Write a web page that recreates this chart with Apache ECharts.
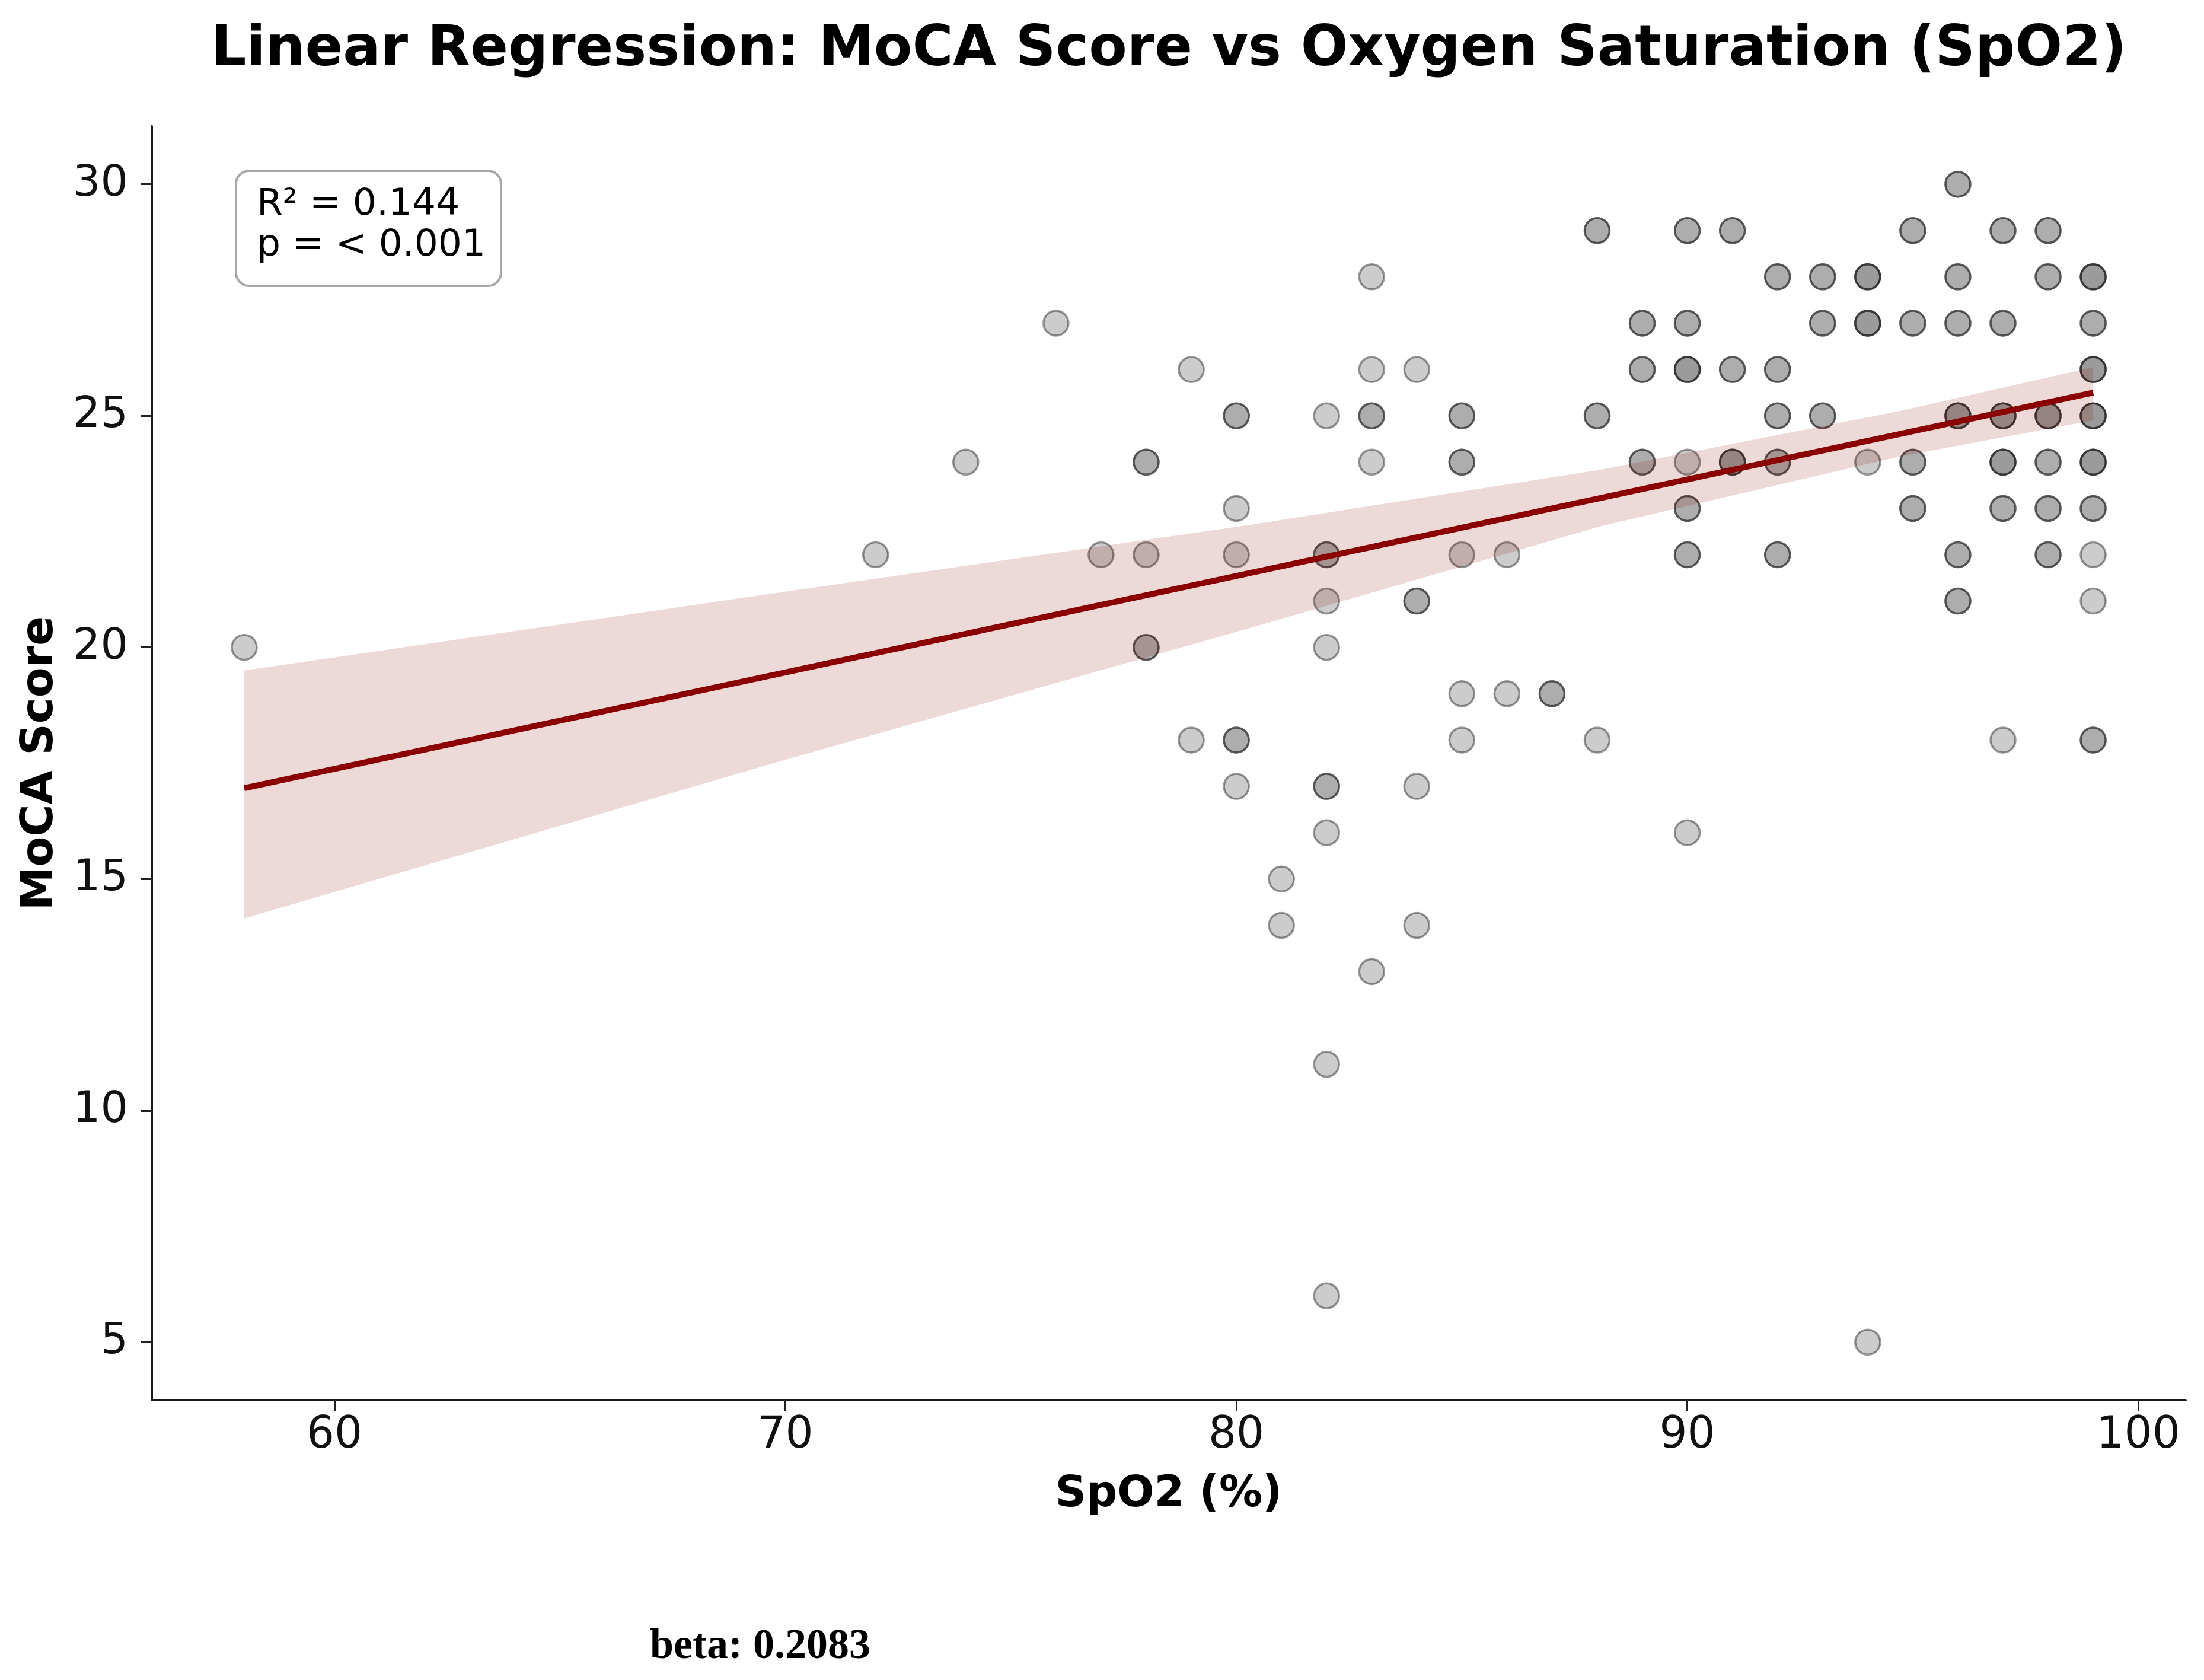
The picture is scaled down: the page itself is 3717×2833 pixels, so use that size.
<!DOCTYPE html>
<html>
<head>
<meta charset="utf-8">
<script src="https://cdn.jsdelivr.net/npm/echarts@6.0.0/dist/echarts.min.js"></script>
<style>
html,body{margin:0;padding:0;background:#fff;}
#main{width:3717px;height:2833px;}
</style>
</head>
<body>
<div id="main"></div>
<script>
// SpO2 (%) of each subject, repeated where points overlap
var spo2 = [
  58, 72, 74, 76, 77,
  78, 78, 78, 78, 78,
  79, 79,
  80, 80, 80, 80, 80, 80, 80,
  81, 81,
  82, 82, 82, 82, 82, 82, 82, 82, 82, 82,
  83, 83, 83, 83, 83, 83,
  84, 84, 84, 84, 84,
  85, 85, 85, 85, 85, 85, 85,
  86, 86,
  87, 87,
  88, 88, 88, 88, 88,
  89, 89, 89, 89, 89, 89,
  90, 90, 90, 90, 90, 90, 90, 90, 90, 90, 90, 90, 90,
  91, 91, 91, 91, 91, 91, 91,
  92, 92, 92, 92, 92, 92, 92, 92, 92, 92,
  93, 93, 93, 93, 93, 93,
  94, 94, 94, 94, 94, 94, 94, 94,
  95, 95, 95, 95, 95, 95, 95, 95,
  96, 96, 96, 96, 96, 96, 96, 96, 96, 96, 96, 96, 96,
  97, 97, 97, 97, 97, 97, 97, 97, 97, 97, 97, 97, 97,
  98, 98, 98, 98, 98, 98, 98, 98, 98, 98, 98, 98, 98,
  99, 99, 99, 99, 99, 99, 99, 99, 99, 99, 99, 99, 99, 99, 99, 99, 99, 99, 99, 99
];
// MoCA score, same order
var moca = [
  20, 22, 24, 27, 22,
  24, 24, 22, 20, 20,
  26, 18,
  25, 25, 23, 22, 18, 18, 17,
  15, 14,
  25, 22, 22, 21, 20, 17, 17, 16, 11, 6,
  28, 26, 25, 25, 24, 13,
  26, 21, 21, 17, 14,
  25, 25, 24, 24, 22, 19, 18,
  22, 19,
  19, 19,
  29, 29, 25, 25, 18,
  27, 27, 26, 26, 24, 24,
  29, 29, 27, 27, 26, 26, 26, 24, 23, 23, 22, 22, 16,
  29, 29, 26, 26, 24, 24, 24,
  28, 28, 26, 26, 25, 25, 24, 24, 22, 22,
  28, 28, 27, 27, 25, 25,
  28, 28, 28, 27, 27, 27, 24, 5,
  29, 29, 27, 27, 24, 24, 23, 23,
  30, 30, 28, 28, 27, 27, 25, 25, 25, 22, 22, 21, 21,
  29, 29, 27, 27, 25, 25, 25, 24, 24, 24, 23, 23, 18,
  29, 29, 28, 28, 25, 25, 25, 24, 24, 23, 23, 22, 22,
  28, 28, 28, 27, 27, 26, 26, 26, 25, 25, 25, 24, 24, 24, 23, 23, 22, 21, 18, 18
];

// fitted line (ends) and 95% band
var fitX = [58, 99];
var fitY = [16.96, 25.5];
var bandX = [58, 69.7, 80.2, 88.1, 94.7, 99];
var bandHi = [19.5, 21.16, 22.63, 23.84, 25.1, 26.05];
var bandLo = [14.15, 17.49, 20.39, 22.62, 24.12, 24.9];

var xTicks = [60, 70, 80, 90, 100];
var yTicks = [5, 10, 15, 20, 25, 30];

var titleText = 'Linear Regression: MoCA Score vs Oxygen Saturation (SpO2)';
var statLines = ['R\u00b2 = 0.144', 'p = < 0.001'];
var betaText = 'beta: 0.2083';

var points = [];
for (var i = 0; i < spo2.length; i++) {
  points.push([spo2[i], moca[i]]);
}
var fitData = [];
for (var i = 0; i < fitX.length; i++) {
  fitData.push([fitX[i], fitY[i]]);
}
var bandData = [];
for (var i = 0; i < bandX.length; i++) {
  bandData.push([bandX[i], bandLo[i], bandHi[i]]);
}

var FONT = '"DejaVu Sans", "Noto Sans", sans-serif';

var myChart = echarts.init(document.getElementById('main'));
var option = {
  backgroundColor: '#ffffff',
  animation: false,
  grid: {
    left: 256,
    top: 213,
    right: 31,
    bottom: 472,
    containLabel: false
  },
  xAxis: {
    type: 'value',
    min: 55.95,
    max: 101.05,
    name: 'SpO2 (%)',
    nameLocation: 'middle',
    nameGap: 124,
    nameTextStyle: { fontFamily: FONT, fontSize: 73, fontWeight: 'bold', color: '#000' },
    axisLine: { show: true, onZero: false, lineStyle: { color: '#1a1a1a', width: 4 } },
    axisTick: { show: true, length: 18, customValues: xTicks, lineStyle: { color: '#222', width: 3 } },
    axisLabel: { customValues: xTicks, fontFamily: FONT, fontSize: 74, color: '#111', margin: 24 },
    splitLine: { show: false }
  },
  yAxis: {
    type: 'value',
    min: 3.75,
    max: 31.25,
    name: 'MoCA Score',
    nameLocation: 'middle',
    nameRotate: 90,
    nameGap: 150,
    nameTextStyle: { fontFamily: FONT, fontSize: 74, fontWeight: 'bold', color: '#000' },
    axisLine: { show: true, onZero: false, lineStyle: { color: '#1a1a1a', width: 4 } },
    axisTick: { show: true, length: 18, customValues: yTicks, lineStyle: { color: '#222', width: 3 } },
    axisLabel: { customValues: yTicks, fontFamily: FONT, fontSize: 73, color: '#111', margin: 40 },
    splitLine: { show: false }
  },
  graphic: [
    {
      type: 'text',
      x: 1971,
      y: 86,
      style: {
        text: titleText,
        font: 'bold 94px ' + FONT,
        fill: '#000',
        textAlign: 'center',
        textVerticalAlign: 'middle'
      }
    },
    {
      type: 'rect',
      shape: { x: 398, y: 288, width: 447, height: 194, r: 22 },
      style: { fill: 'rgba(255,255,255,0.8)', stroke: '#a8a8a8', lineWidth: 4 },
      z: 10
    },
    {
      type: 'text',
      x: 433,
      y: 346,
      z: 11,
      style: { text: statLines[0], font: '63px ' + FONT, fill: '#000', textAlign: 'left', textVerticalAlign: 'middle' }
    },
    {
      type: 'text',
      x: 433,
      y: 415,
      z: 11,
      style: { text: statLines[1], font: '63px ' + FONT, fill: '#000', textAlign: 'left', textVerticalAlign: 'middle' }
    },
    {
      type: 'text',
      x: 1282,
      y: 2777,
      style: {
        text: betaText,
        font: 'bold 72px "Liberation Serif", "DejaVu Serif", serif',
        fill: '#000',
        textAlign: 'center',
        textVerticalAlign: 'middle'
      }
    }
  ],
  series: [
    {
      name: 'subjects',
      type: 'scatter',
      data: points,
      symbol: 'circle',
      symbolSize: 42,
      itemStyle: {
        color: 'rgba(128,128,128,0.5)',
        borderColor: 'rgba(0,0,0,0.5)',
        borderWidth: 3.5
      },
      z: 2
    },
    {
      name: 'band',
      type: 'custom',
      data: bandData,
      z: 3,
      silent: true,
      renderItem: function (params, api) {
        if (params.dataIndex !== 0) {
          return null;
        }
        var pts = [];
        for (var k = 0; k < bandX.length; k++) {
          pts.push(api.coord([bandX[k], bandHi[k]]));
        }
        for (var k = bandX.length - 1; k >= 0; k--) {
          pts.push(api.coord([bandX[k], bandLo[k]]));
        }
        return {
          type: 'polygon',
          shape: { points: pts },
          style: { fill: 'rgba(139,0,0,0.15)', stroke: 'none' }
        };
      }
    },
    {
      name: 'fit',
      type: 'line',
      data: fitData,
      symbol: 'none',
      lineStyle: { color: '#8b0000', width: 10 },
      z: 4
    }
  ]
};
myChart.setOption(option);
</script>
</body>
</html>
